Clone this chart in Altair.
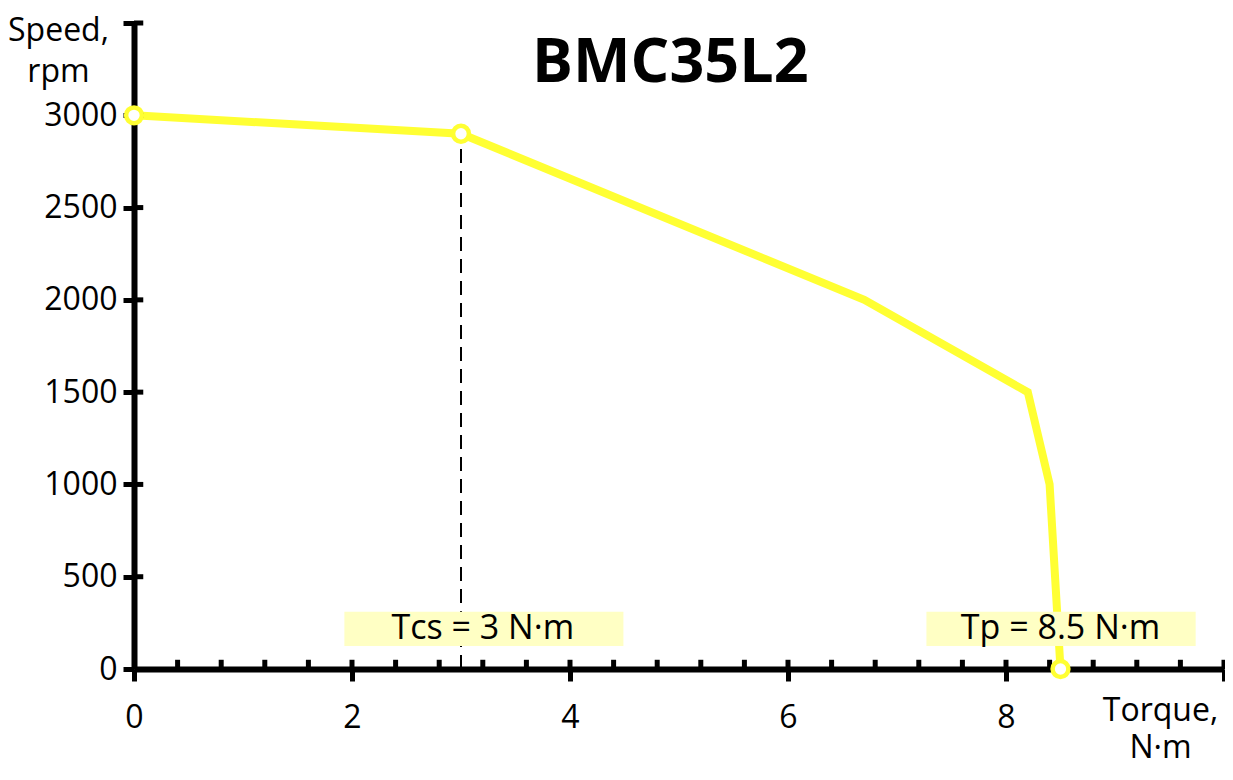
import altair as alt
import pandas as pd

# ---- data ----
torque = [0, 3, 6.7, 8.2, 8.4, 8.5]
speed = [3000, 2900, 2000, 1500, 1000, 0]
marker_torque = [0, 3, 8.5]
marker_speed = [3000, 2900, 0]

x_major = [0, 2, 4, 6, 8, 10]
y_major = [0, 500, 1000, 1500, 2000, 2500, 3000, 3500]
x_minor = [0.4, 0.8, 1.2, 1.6, 2.0, 2.4, 2.8, 3.2, 3.6, 4.0, 4.4, 4.8, 5.2,
           5.6, 6.0, 6.4, 6.8, 7.2, 7.6, 8.0, 8.4, 8.8, 9.2, 9.6, 10.0]
y_inner = [500, 1000, 1500, 2000, 2500, 3000, 3500]

ann_text = ["Tcs = 3 N·m", "Tp = 8.5 N·m"]
ann_x = [3.2, 8.5]
ann_x0 = [1.93, 7.27]
ann_x1 = [4.49, 9.74]
ann_y0 = [125, 125]
ann_y1 = [310, 310]
ann_y = [218, 218]

tcs_torque = [3]
tcs_speed = [2900]

title_text = ["BMC35L2"]
title_x = [4.92]
title_y = [3179]

FONT = "Open Sans"
YELLOW = "#FFFF33"

line_df = pd.DataFrame({"x": torque, "y": speed})
mark_df = pd.DataFrame({"x": marker_torque, "y": marker_speed})
minor_df = pd.DataFrame({"x": x_minor, "y0": [0] * len(x_minor), "y1": [50] * len(x_minor)})
yin_df = pd.DataFrame({"y": y_inner, "x0": [0] * len(y_inner), "x1": [0.085] * len(y_inner)})
ann_df = pd.DataFrame({"t": ann_text, "x": ann_x, "x0": ann_x0, "x1": ann_x1,
                       "y0": ann_y0, "y1": ann_y1, "y": ann_y})
tcs_df = pd.DataFrame({"x": tcs_torque, "y0": [0], "y1": tcs_speed})
title_df = pd.DataFrame({"t": title_text, "x": title_x, "y": title_y})

xs = alt.Scale(domain=[0, 10], nice=False, zero=False)
ys = alt.Scale(domain=[0, 3500], nice=False, zero=False)

x_axis = alt.Axis(values=x_major, labelExpr="datum.value == 10 ? '' : datum.label",
                  title=["Torque,", "N·m"], titleAngle=0, titleAlign="center",
                  titleBaseline="alphabetic", titleX=1026, titleY=51,
                  titleLineHeight=37, labelPadding=21, labelFlush=False, zindex=0)
y_axis = alt.Axis(values=y_major, labelExpr="datum.value == 3500 ? '' : datum.value",
                  title=["Speed,", "rpm"], titleAngle=0, titleAlign="center",
                  titleBaseline="alphabetic", titleX=-76, titleY=17,
                  titleLineHeight=41, labelPadding=6, tickSize=11, zindex=0)


def X(field):
    return alt.X(field, scale=xs, axis=x_axis)


def Y(field):
    return alt.Y(field, scale=ys, axis=y_axis)


minor = alt.Chart(minor_df).mark_rule(color="black", strokeWidth=5, strokeCap="butt").encode(
    x=X("x:Q"), y=Y("y0:Q"), y2="y1:Q",
)
yin = alt.Chart(yin_df).mark_rule(color="black", strokeWidth=5, strokeCap="butt").encode(
    y=Y("y:Q"), x=X("x0:Q"), x2="x1:Q",
)

dashed = alt.Chart(tcs_df).mark_rule(color="black", strokeWidth=2, strokeDash=[14, 8]).encode(
    x=X("x:Q"), y=Y("y0:Q"), y2="y1:Q",
)

line = alt.Chart(line_df).mark_line(color=YELLOW, strokeWidth=8, strokeJoin="miter").encode(
    x=X("x:Q"), y=Y("y:Q"),
)

rects = alt.Chart(ann_df).mark_rect(color="#FFFFC4").encode(
    x=X("x0:Q"), x2="x1:Q", y=Y("y0:Q"), y2="y1:Q",
)
texts = alt.Chart(ann_df).mark_text(font=FONT, fontSize=34, color="black",
                                    align="center", baseline="middle").encode(
    x=X("x:Q"), y=Y("y:Q"), text="t:N",
)

points = alt.Chart(mark_df).mark_point(shape="circle", filled=True, fill="white",
                                       stroke=YELLOW, strokeWidth=4.5, size=250,
                                       opacity=1).encode(
    x=X("x:Q"), y=Y("y:Q"),
)

title = alt.Chart(title_df).mark_text(font=FONT, fontSize=61, fontWeight="bold",
                                      color="black", align="center",
                                      baseline="alphabetic").encode(
    x=X("x:Q"), y=Y("y:Q"), text="t:N",
)

chart = alt.layer(dashed, line, rects, texts, minor, yin, points, title).properties(
    width=1090, height=646, background="white",
    autosize=alt.AutoSizeParams(type="none"),
    padding={"left": 126, "top": 15, "right": 1, "bottom": 100},
).configure_view(strokeWidth=0, stroke="transparent").configure_axis(
    grid=False, domainColor="black", domainWidth=6, tickColor="black", tickWidth=5,
    tickSize=12, labelFont=FONT, labelFontSize=32, labelColor="black",
    titleFont=FONT, titleFontSize=32, titleColor="black", titleFontWeight="normal",
)

chart.save("out.html", embed_options={"renderer": "svg", "actions": False})
